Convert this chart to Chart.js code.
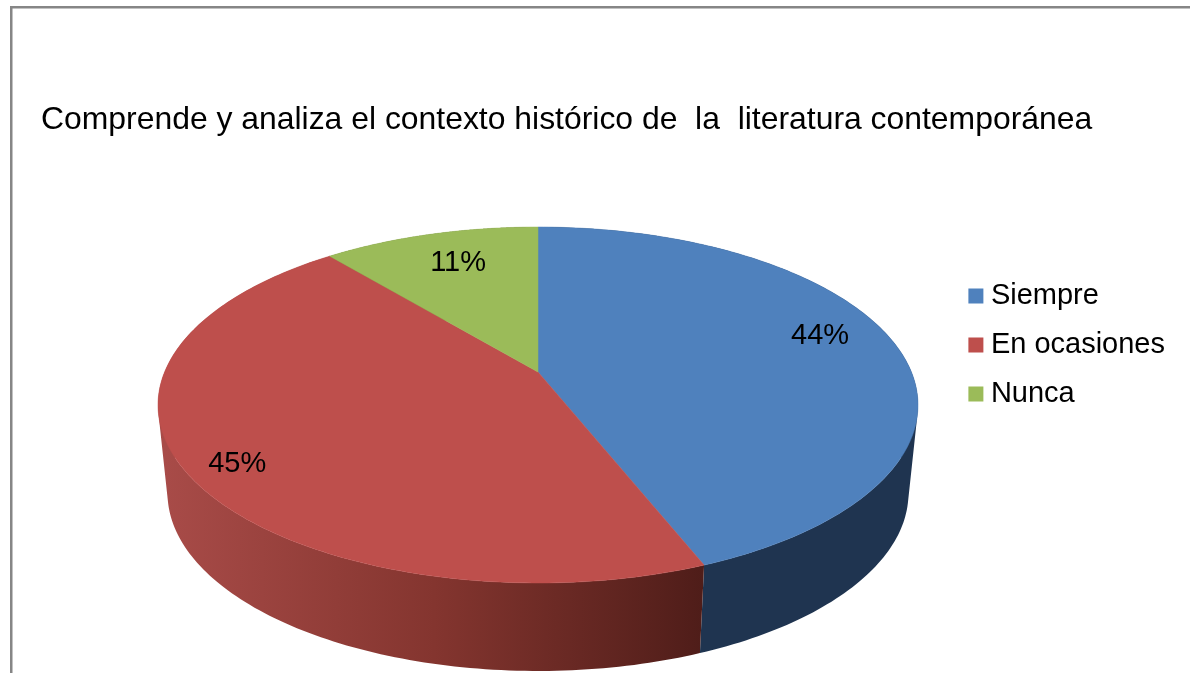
<!DOCTYPE html>
<html><head><meta charset="utf-8">
<style>html,body{margin:0;padding:0;background:#fff;overflow:hidden}canvas{display:block}</style>
<script src="https://cdn.jsdelivr.net/npm/chart.js@4"></script>
</head><body>
<div style="width:1190px;height:673px"><canvas id="c" width="1190" height="673"></canvas></div>
<script>
const titleText = 'Comprende y analiza el contexto histórico de  la  literatura contemporánea';
const categories = ['Siempre', 'En ocasiones', 'Nunca'];
const percentages = [44, 45, 11];
const topColors = ['#4F81BD', '#BE4F4C', '#9BBB59'];

// 3D pie look: perspective projection of a unit disc
const view = {cx: 538, apexY: 372, a: 102.9, c: -0.1854, A: 373.4, depth: 88, bottomScale: 0.975};
const project = (u, v) => {
  const d = 1 + view.c * v;
  return [view.cx + view.A * u / d, (view.a * v + view.apexY) / d];
};
const rim = (ang, low) => {
  const p = project(Math.cos(ang), Math.sin(ang));
  return low ? [view.cx + (p[0] - view.cx) * view.bottomScale, p[1] + view.depth] : p;
};
const labelRadius = [0.79, 0.86, 0.71];
const labelShift = [-11, 10, -7];

const pie3d = {
  id: 'pie3d',
  beforeDraw(chart) {
    const ctx = chart.ctx;
    ctx.save();
    ctx.fillStyle = '#fff';
    ctx.fillRect(0, 0, chart.width, chart.height);
    ctx.fillStyle = '#868686';
    ctx.fillRect(10, 6, chart.width - 10, 2.5);
    ctx.fillRect(10, 6, 2.5, chart.height - 6);
    ctx.restore();
  },
  beforeDatasetDraw(chart) {
    const ctx = chart.ctx;
    const arcs = chart.getDatasetMeta(0).data;
    const red = ctx.createLinearGradient(165, 0, 703, 0);
    red.addColorStop(0, '#A84B48');
    red.addColorStop(0.5, '#84352F');
    red.addColorStop(1, '#4F1D19');
    const sideFill = ['#1F3450', red, '#5F7035'];
    const STEPS = 160;
    // side walls: same-orientation strips in one path, so the fill has no seams
    [2, 0, 1].forEach(i => {
      const {startAngle: s, endAngle: e} = arcs[i];
      ctx.beginPath();
      for (let k = 0; k < STEPS; k++) {
        const a0 = s + (e - s) * k / STEPS, a1 = s + (e - s) * (k + 1) / STEPS;
        let p = [rim(a0, false), rim(a1, false), rim(a1, true), rim(a0, true)];
        let area = 0;
        for (let j = 0; j < 4; j++) {
          const q = p[(j + 1) % 4];
          area += p[j][0] * q[1] - q[0] * p[j][1];
        }
        if (area < 0) p = p.reverse();
        ctx.moveTo(p[0][0], p[0][1]);
        for (let j = 1; j < 4; j++) ctx.lineTo(p[j][0], p[j][1]);
        ctx.closePath();
      }
      ctx.fillStyle = sideFill[i];
      ctx.fill('nonzero');
    });
    // top faces
    arcs.forEach((arc, i) => {
      const {startAngle: s, endAngle: e} = arc;
      ctx.beginPath();
      const o = project(0, 0);
      ctx.moveTo(o[0], o[1]);
      for (let k = 0; k <= STEPS; k++) {
        const p = rim(s + (e - s) * k / STEPS, false);
        ctx.lineTo(p[0], p[1]);
      }
      ctx.closePath();
      ctx.fillStyle = topColors[i];
      ctx.strokeStyle = topColors[i];
      ctx.lineWidth = 0.5;
      ctx.fill();
      ctx.stroke();
    });
    // percent labels
    const total = percentages.reduce((a, b) => a + b, 0);
    ctx.fillStyle = '#000';
    ctx.font = '29px "Liberation Sans", Arial, sans-serif';
    ctx.textAlign = 'center';
    ctx.textBaseline = 'middle';
    arcs.forEach((arc, i) => {
      const mid = (arc.startAngle + arc.endAngle) / 2;
      const p = project(Math.cos(mid) * labelRadius[i], Math.sin(mid) * labelRadius[i]);
      ctx.fillText(Math.round(percentages[i] / total * 100) + '%', p[0], p[1] + labelShift[i]);
    });
    return false;
  }
};

new Chart(document.getElementById('c'), {
  type: 'pie',
  data: {labels: categories, datasets: [{data: percentages, backgroundColor: topColors, borderWidth: 0}]},
  plugins: [pie3d],
  options: {
    responsive: false,
    animation: false,
    events: [],
    layout: {padding: {left: 41, top: 101, right: 15, bottom: 84}},
    plugins: {
      tooltip: {enabled: false},
      title: {display: true, text: titleText, align: 'start', color: '#000', padding: {top: 0, bottom: 10},
        font: {family: '"Liberation Sans", Arial, sans-serif', size: 31.9, weight: 'normal'}},
      legend: {position: 'right', align: 'center',
        labels: {color: '#000', usePointStyle: true, pointStyle: 'rect', boxWidth: 1, boxHeight: 15, padding: 20,
          font: {family: '"Liberation Sans", Arial, sans-serif', size: 29}}}
    }
  }
});
</script>
</body></html>
